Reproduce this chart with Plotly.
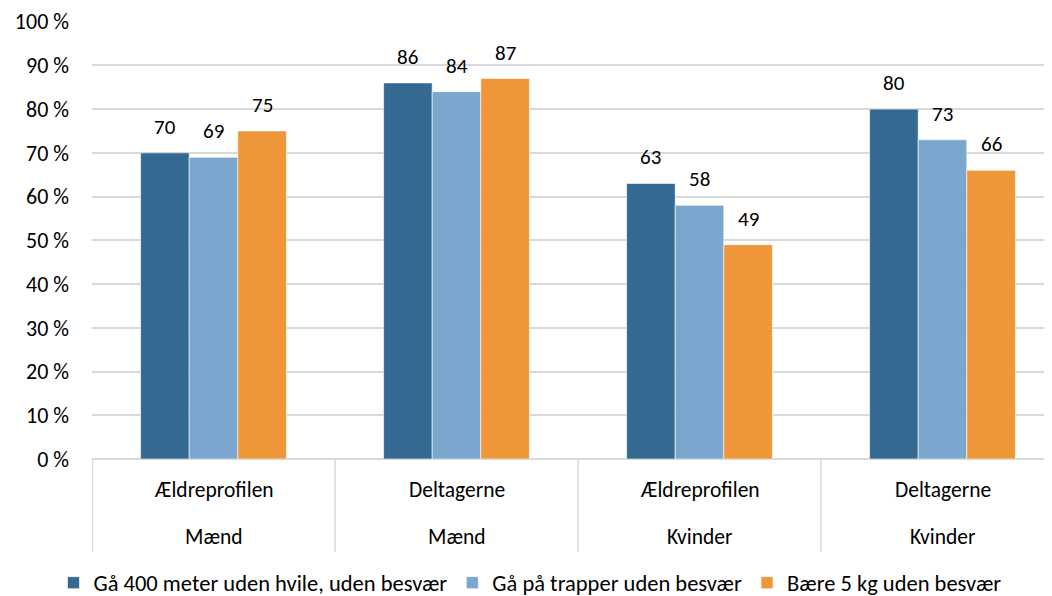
import plotly.graph_objects as go

groups = ["Ældreprofilen", "Deltagerne", "Ældreprofilen", "Deltagerne"]
sexes = ["Mænd", "Mænd", "Kvinder", "Kvinder"]
series_names = [
    "Gå 400 meter uden hvile, uden besvær",
    "Gå på trapper uden besvær",
    "Bære 5 kg uden besvær",
]
walk400 = [70, 86, 63, 80]
stairs = [69, 84, 58, 73]
carry5 = [75, 87, 49, 66]
colors = ["#346A91", "#7BA6CE", "#EE9638"]
y_ticks = [0, 10, 20, 30, 40, 50, 60, 70, 80, 90, 100]
y_ticktext = [f"{v} %" for v in y_ticks]

FONT = "Carlito, Calibri, Lato, sans-serif"
TXT = "#000000"

# the page body adds an 8px margin, so the figure is sized to the visible area
FIG_W, FIG_H = 1044, 588

x = list(range(len(groups)))
series = [walk400, stairs, carry5]

fig = go.Figure()
for name, vals, col in zip(series_names, series, colors):
    fig.add_trace(go.Bar(
        x=x, y=vals, name=name,
        marker=dict(color=col, line=dict(color="white", width=0.6)),
        hoverinfo="y",
    ))

# value labels
n = len(series)
bw = 0.2
for k, vals in enumerate(series):
    for i, v in enumerate(vals):
        fig.add_annotation(
            x=i + (k - (n - 1) / 2) * bw, y=v, xref="x", yref="y",
            text=str(v), showarrow=False, yanchor="middle", yshift=26,
            font=dict(family=FONT, size=21, color=TXT),
        )

# category labels (two levels)
for i, (g, s) in enumerate(zip(groups, sexes)):
    fig.add_annotation(x=i, y=0, xref="x", yref="paper", text=g, showarrow=False,
                       yanchor="middle", yshift=-31,
                       font=dict(family=FONT, size=21.5, color=TXT))
    fig.add_annotation(x=i, y=0, xref="x", yref="paper", text=s, showarrow=False,
                       yanchor="middle", yshift=-78,
                       font=dict(family=FONT, size=21.5, color=TXT))

# separators
for i in range(len(groups)):
    xs = i - 0.5 + (0.002 if i == 0 else 0)
    fig.add_shape(type="line", xref="x", yref="paper",
                  x0=xs, x1=xs, y0=0, y1=-0.212,
                  line=dict(color="#D9D9D9", width=1.5), layer="above")

fig.update_layout(
    width=FIG_W, height=FIG_H,
    margin=dict(l=84, r=0, t=13, b=137, autoexpand=False),
    paper_bgcolor="white", plot_bgcolor="white",
    barmode="group", bargap=0.4, bargroupgap=0,
    font=dict(family=FONT, size=20, color=TXT),
    showlegend=True,
    legend=dict(orientation="h", x=0.5, xanchor="center", xref="container",
                y=13 / FIG_H, yanchor="middle", yref="container",
                font=dict(family=FONT, size=22.5, color=TXT), itemwidth=30,
                traceorder="normal", tracegroupgap=0),
    xaxis=dict(range=[-0.5, 3.4506], showticklabels=False, showgrid=False,
               zeroline=False, showline=False, fixedrange=True, automargin=False),
    yaxis=dict(range=[0, 100.15], tickvals=y_ticks, ticktext=y_ticktext,
               showgrid=True, gridcolor="#D9D9D9", gridwidth=1.5,
               zeroline=True, zerolinecolor="#D9D9D9", zerolinewidth=1.5,
               showline=False, ticks="", ticklabelstandoff=22, automargin=False,
               ticklabeloverflow="allow",
               tickfont=dict(family=FONT, size=22, color=TXT)),
)

fig.write_html("out.html")
